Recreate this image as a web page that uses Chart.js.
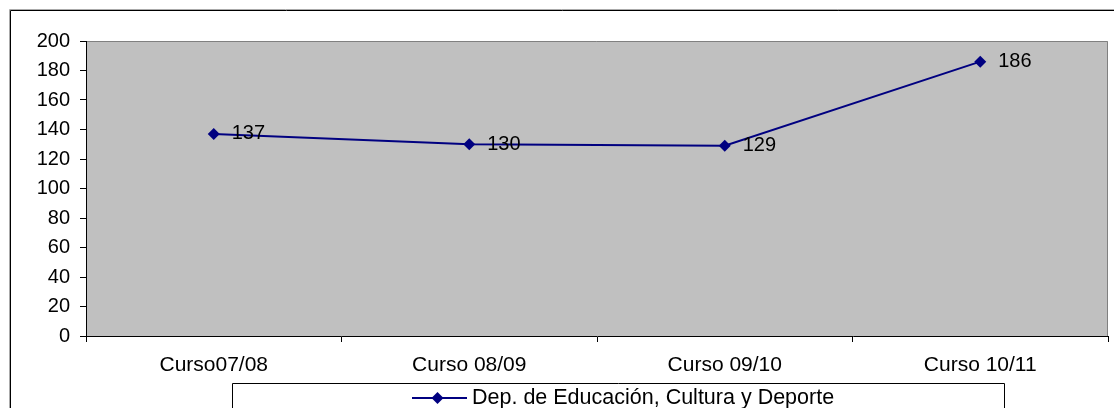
<!DOCTYPE html>
<html>
<head>
<meta charset="utf-8">
<script src="https://cdn.jsdelivr.net/npm/chart.js@4/dist/chart.umd.min.js"></script>
<style>
html,body{margin:0;padding:0;background:#fff;}
#wrap{width:1114px;height:408px;position:relative;}
</style>
</head>
<body>
<div id="wrap"><canvas id="c" width="1114" height="408"></canvas></div>
<script>
const categories = ["Curso07/08", "Curso 08/09", "Curso 09/10", "Curso 10/11"];
const seriesName = "Dep. de Educación, Cultura y Deporte";
const seriesValues = [137, 130, 129, 186];
const yTicks = [0, 20, 40, 60, 80, 100, 120, 140, 160, 180, 200];

const FONT = "'Liberation Sans', Arial, sans-serif";
const NAVY = "#000080";

const framePlugin = {
  id: 'frame',
  beforeDraw(chart) {
    const ctx = chart.ctx, a = chart.chartArea;
    ctx.save();
    ctx.fillStyle = '#fff';
    ctx.fillRect(0, 0, chart.width, chart.height);
    ctx.strokeStyle = '#aaaaaa';
    ctx.lineWidth = 1;
    ctx.beginPath();
    ctx.moveTo(9.5, chart.height); ctx.lineTo(9.5, 9.5); ctx.lineTo(chart.width, 9.5);
    ctx.stroke();
    ctx.strokeStyle = '#000';
    ctx.beginPath();
    ctx.moveTo(10.5, chart.height); ctx.lineTo(10.5, 10.5); ctx.lineTo(chart.width, 10.5);
    ctx.stroke();
    ctx.fillStyle = '#C0C0C0';
    ctx.fillRect(a.left, a.top, a.right - a.left, a.bottom - a.top);
    ctx.strokeStyle = '#808080';
    ctx.beginPath();
    ctx.moveTo(a.left, a.top + 0.5); ctx.lineTo(a.right - 0.5, a.top + 0.5); ctx.lineTo(a.right - 0.5, a.bottom);
    ctx.stroke();
    ctx.restore();
  },
  afterDatasetsDraw(chart) {
    const ctx = chart.ctx;
    ctx.save();
    ctx.font = "20px " + FONT;
    ctx.fillStyle = '#000';
    ctx.textAlign = 'left';
    ctx.textBaseline = 'middle';
    chart.data.datasets.forEach((ds, di) => {
      const meta = chart.getDatasetMeta(di);
      meta.data.forEach((pt, i) => {
        ctx.fillText(String(ds.data[i]), pt.x + 18, pt.y);
      });
    });
    ctx.restore();
  },
  afterDraw(chart) {
    const ctx = chart.ctx;
    ctx.save();
    ctx.strokeStyle = '#000';
    ctx.lineWidth = 1;
    ctx.beginPath();
    ctx.moveTo(232.5, chart.height); ctx.lineTo(232.5, 383.5); ctx.lineTo(1004.5, 383.5); ctx.lineTo(1004.5, chart.height);
    ctx.stroke();
    const ds = chart.data.datasets[0];
    const ly = 398;
    ctx.strokeStyle = ds.borderColor;
    ctx.lineWidth = 2;
    ctx.beginPath();
    ctx.moveTo(412, ly); ctx.lineTo(467, ly);
    ctx.stroke();
    ctx.fillStyle = ds.pointBackgroundColor;
    ctx.beginPath();
    const r = 6;
    ctx.moveTo(437.5, ly - r); ctx.lineTo(437.5 + r, ly); ctx.lineTo(437.5, ly + r); ctx.lineTo(437.5 - r, ly);
    ctx.closePath(); ctx.fill();
    ctx.fillStyle = '#000';
    ctx.font = "21.5px " + FONT;
    ctx.textBaseline = 'middle';
    ctx.fillText(ds.label, 472, ly);
    ctx.restore();
  }
};

new Chart(document.getElementById('c'), {
  type: 'line',
  data: {
    labels: categories,
    datasets: [{
      label: seriesName,
      data: seriesValues,
      borderColor: NAVY,
      backgroundColor: NAVY,
      pointBackgroundColor: NAVY,
      pointBorderColor: NAVY,
      borderWidth: 2,
      pointStyle: 'rectRot',
      pointRadius: 6,
      pointBorderWidth: 0,
      tension: 0,
      fill: false
    }]
  },
  options: {
    responsive: false,
    animation: false,
    events: [],
    layout: { padding: { left: 0, top: 41, right: 5, bottom: 0 } },
    plugins: { legend: { display: false }, tooltip: { enabled: false }, title: { display: false } },
    scales: {
      x: {
        offset: true,
        grid: { offset: true, drawOnChartArea: false, drawTicks: true, tickLength: 6, color: '#000', lineWidth: 1 },
        border: { color: '#000', width: 1 },
        ticks: { color: '#000', font: { family: FONT, size: 21 }, padding: 11, maxRotation: 0, autoSkip: false },
        afterFit(axis) { axis.height = 72; }
      },
      y: {
        min: 0, max: 200,
        afterBuildTicks(axis) { axis.ticks = yTicks.map(v => ({ value: v })); },
        grid: { drawOnChartArea: false, drawTicks: true, tickLength: 6, color: '#000', lineWidth: 1 },
        border: { color: '#000', width: 1 },
        ticks: { color: '#000', font: { family: FONT, size: 20 }, padding: 10 },
        afterFit(axis) { axis.width = 86; }
      }
    }
  },
  plugins: [framePlugin]
});
</script>
</body>
</html>
